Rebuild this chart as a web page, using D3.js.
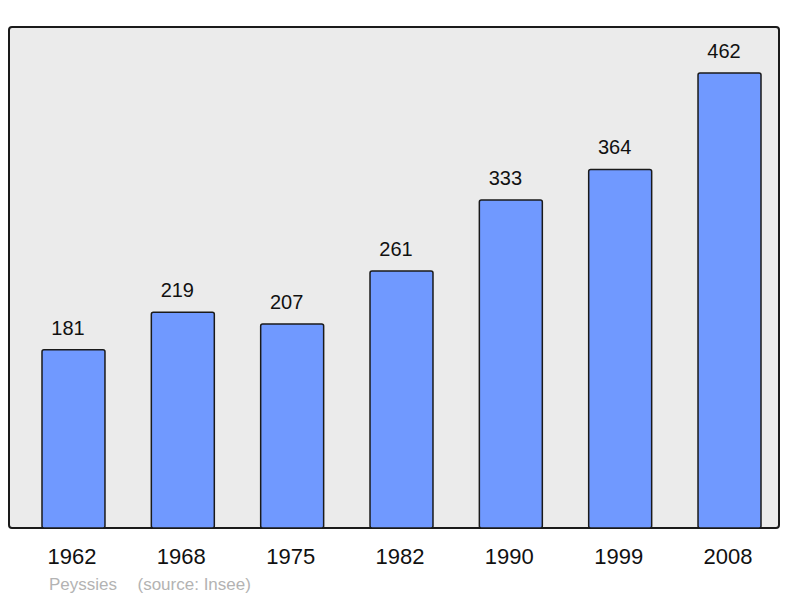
<!DOCTYPE html>
<html><head><meta charset="utf-8">
<script src="https://cdn.jsdelivr.net/npm/d3@7"></script>
<style>body{margin:0;background:#fff}svg{display:block}</style>
</head><body>
<svg id="c" width="800" height="598"></svg>
<script>
const years = ["1962","1968","1975","1982","1990","1999","2008"];
const population = [181,219,207,261,333,364,462];
const townName = "Peyssies";
const sourceText = "(source: Insee)";

const svg = d3.select("#c");
const panel = {x0:9, x1:779, y0:27, y1:528};
const font = "Liberation Sans, Arial, sans-serif";

svg.append("rect").attr("x",panel.x0).attr("y",panel.y0)
  .attr("width",panel.x1-panel.x0).attr("height",panel.y1-panel.y0)
  .attr("rx",3).attr("fill","#ebebeb").attr("stroke","#1a1a1a").attr("stroke-width",2);

const x = d3.scaleBand().domain(years).range([20.13,782.87]).paddingInner(0.424).paddingOuter(0.2);
const y = d3.scaleLinear().domain([0,508.6]).range([panel.y1,panel.y0]);

svg.selectAll("rect.bar").data(population).enter().append("rect")
  .attr("class","bar")
  .attr("x",(d,i)=>x(years[i])).attr("y",d=>y(d))
  .attr("width",x.bandwidth()).attr("height",d=>panel.y1-y(d))
  .attr("rx",2).attr("fill","#7099ff").attr("stroke","#1a1a1a").attr("stroke-width",1.5);

svg.selectAll("text.val").data(population).enter().append("text")
  .attr("x",(d,i)=>x(years[i])+x.bandwidth()/2-5.5).attr("y",d=>y(d)-15)
  .attr("text-anchor","middle").attr("font-family",font)
  .attr("font-size",20).attr("fill","#111").text(d=>d);

svg.selectAll("text.yr").data(years).enter().append("text")
  .attr("x",d=>x(d)+x.bandwidth()/2-1.5).attr("y",564)
  .attr("text-anchor","middle").attr("font-family",font)
  .attr("font-size",22).attr("fill","#111")
  .text(d=>d);

svg.append("text").attr("x",49).attr("y",590)
  .attr("font-family",font).attr("font-size",17).attr("fill","#b3b3b3")
  .text(townName);
svg.append("text").attr("x",137.5).attr("y",590)
  .attr("font-family",font).attr("font-size",17).attr("fill","#b3b3b3")
  .text(sourceText);
</script>
</body></html>
